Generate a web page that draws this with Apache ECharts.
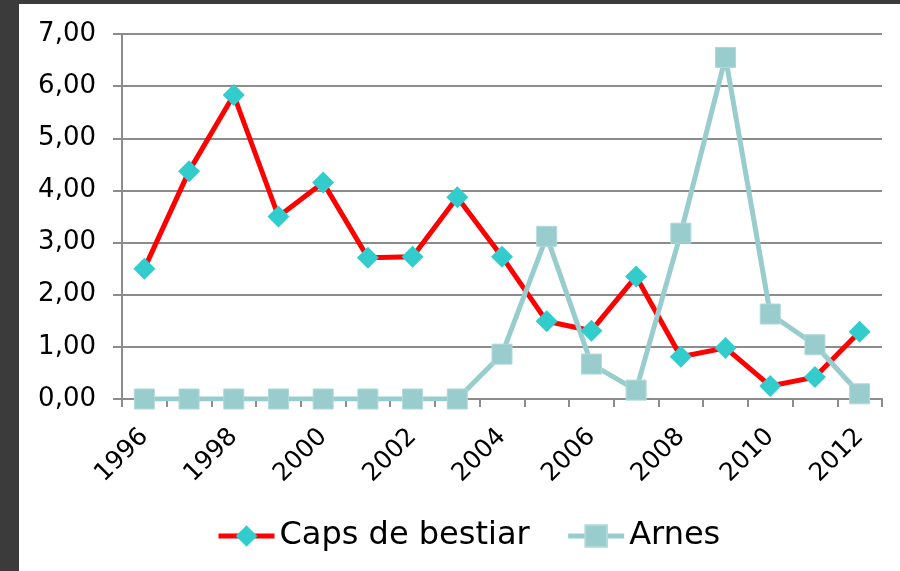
<!DOCTYPE html>
<html>
<head>
<meta charset="utf-8">
<script src="https://cdn.jsdelivr.net/npm/echarts@6/dist/echarts.min.js"></script>
<style>
html,body{margin:0;padding:0;width:900px;height:571px;overflow:hidden;background:#3b3b3b;}
#chart{position:absolute;left:19px;top:4px;width:881px;height:567px;background:#fff;}
</style>
</head>
<body>
<div id="chart"></div>
<script>
const years = ['1996','1997','1998','1999','2000','2001','2002','2003','2004','2005','2006','2007','2008','2009','2010','2011','2012'];
const capsDeBestiar = [2.50,4.37,5.83,3.50,4.15,2.71,2.73,3.87,2.73,1.49,1.31,2.35,0.81,0.98,0.25,0.42,1.29];
const arnes = [0,0,0,0,0,0,0,0,0.86,3.12,0.67,0.17,3.18,6.55,1.63,1.04,0.10];
const yTicks = {min:0, max:7, interval:1};

const chart = echarts.init(document.getElementById('chart'));
const font = 'DejaVu Sans';
chart.setOption({
  backgroundColor:'#fff',
  animation:false,
  textStyle:{fontFamily:font},
  grid:{left:103, top:30, right:18, bottom:172, containLabel:false, outerBoundsMode:'none'},
  legend:{
    top:516, left:197, padding:0,
    itemWidth:56, itemHeight:27, itemGap:36,
    textStyle:{fontSize:32, color:'#000', fontFamily:font},
    data:[
      {name:'Caps de bestiar', lineStyle:{color:'#ff0000', width:5}, itemStyle:{color:'#33cccc'}},
      {name:'Arnes', lineStyle:{color:'#99cccc', width:5}, itemStyle:{color:'#99cccc'}}
    ]
  },
  xAxis:{
    type:'category', data:years, boundaryGap:true,
    axisLine:{lineStyle:{color:'#8c8c8c', width:2}},
    axisTick:{show:true, interval:0, length:8, lineStyle:{color:'#8c8c8c', width:2}},
    axisLabel:{interval:1, rotate:45, fontSize:25, color:'#000', margin:34, fontFamily:font}
  },
  yAxis:{
    type:'value', min:yTicks.min, max:yTicks.max, interval:yTicks.interval,
    axisLine:{show:true, lineStyle:{color:'#8c8c8c', width:2}},
    axisTick:{show:true, length:9, lineStyle:{color:'#8c8c8c', width:2}},
    splitLine:{lineStyle:{color:'#8c8c8c', width:2}},
    axisLabel:{fontSize:26, color:'#000', margin:26, fontFamily:font,
      formatter:v=>v.toFixed(2).replace('.',',')}
  },
  series:[
    {name:'Caps de bestiar', type:'line', data:capsDeBestiar,
     symbol:'diamond', symbolSize:22,
     lineStyle:{color:'#ff0000', width:5},
     itemStyle:{color:'#33cccc'}},
    {name:'Arnes', type:'line', data:arnes,
     symbol:'rect', symbolSize:20,
     lineStyle:{color:'#99cccc', width:5},
     itemStyle:{color:'#99cccc', borderColor:'#b0d8d8', borderWidth:1}}
  ]
});
</script>
</body>
</html>
